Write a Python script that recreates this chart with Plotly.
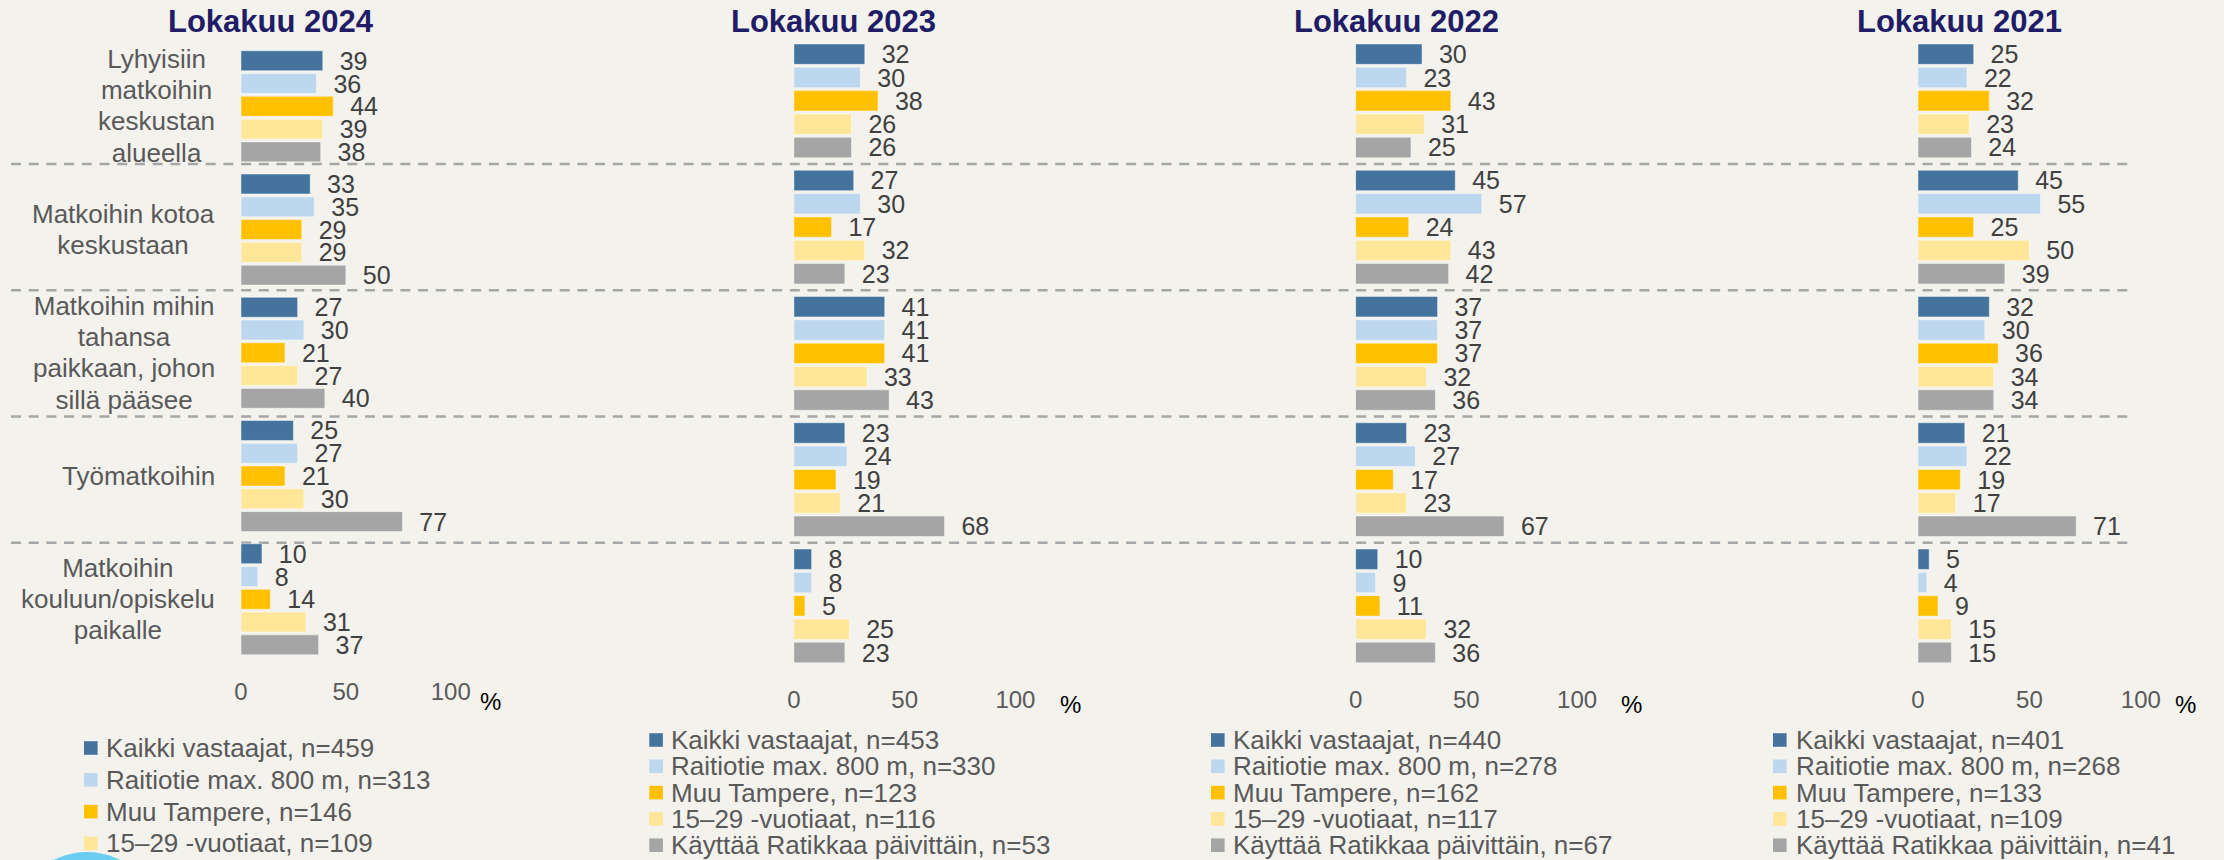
import plotly.graph_objects as go

W, H = 2224, 860

# ---------------- data ----------------
panel_titles = ["Lokakuu 2024", "Lokakuu 2023", "Lokakuu 2022", "Lokakuu 2021"]
categories = [
    "Lyhyisiin<br>matkoihin<br>keskustan<br>alueella",
    "Matkoihin kotoa<br>keskustaan",
    "Matkoihin mihin<br>tahansa<br>paikkaan, johon<br>sillä pääsee",
    "Työmatkoihin",
    "Matkoihin<br>kouluun/opiskelu<br>paikalle",
]
series = ["Kaikki vastaajat", "Raitiotie max. 800 m", "Muu Tampere",
          "15–29 -vuotiaat", "Käyttää Ratikkaa päivittäin"]
colors = ["#44739E", "#BDD7EE", "#FFC000", "#FFE699", "#A5A5A5"]
tick_vals = [0, 50, 100]

v2024_kaikki = [39, 33, 27, 25, 10]
v2024_raitiotie = [36, 35, 30, 27, 8]
v2024_muu = [44, 29, 21, 21, 14]
v2024_nuoret = [39, 29, 27, 30, 31]
v2024_paivittain = [38, 50, 40, 77, 37]

v2023_kaikki = [32, 27, 41, 23, 8]
v2023_raitiotie = [30, 30, 41, 24, 8]
v2023_muu = [38, 17, 41, 19, 5]
v2023_nuoret = [26, 32, 33, 21, 25]
v2023_paivittain = [26, 23, 43, 68, 23]

v2022_kaikki = [30, 45, 37, 23, 10]
v2022_raitiotie = [23, 57, 37, 27, 9]
v2022_muu = [43, 24, 37, 17, 11]
v2022_nuoret = [31, 43, 32, 23, 32]
v2022_paivittain = [25, 42, 36, 67, 36]

v2021_kaikki = [25, 45, 32, 21, 5]
v2021_raitiotie = [22, 55, 30, 22, 4]
v2021_muu = [32, 25, 36, 19, 9]
v2021_nuoret = [23, 50, 34, 17, 15]
v2021_paivittain = [24, 39, 34, 71, 15]

n2024 = [459, 313, 146, 109]          # 5th legend entry is cut off in the source
n2023 = [453, 330, 123, 116, 53]
n2022 = [440, 278, 162, 117, 67]
n2021 = [401, 268, 133, 109, 41]

panel_values = [
    [v2024_kaikki, v2024_raitiotie, v2024_muu, v2024_nuoret, v2024_paivittain],
    [v2023_kaikki, v2023_raitiotie, v2023_muu, v2023_nuoret, v2023_paivittain],
    [v2022_kaikki, v2022_raitiotie, v2022_muu, v2022_nuoret, v2022_paivittain],
    [v2021_kaikki, v2021_raitiotie, v2021_muu, v2021_nuoret, v2021_paivittain],
]
panel_n = [n2024, n2023, n2022, n2021]

# ---------------- layout geometry (pixels) ----------------
FONT = "Arial, Liberation Sans, sans-serif"
BG = "#F3F2ED"
panels = [
    dict(x0=241.0, x100=450.7, ytop=44.7, ybot=660.9, title_cx=270.5, pct=(490, 701),
         sq_x=84.0, txt_x=103.6, leg_y0=748.0, leg_dy=31.8),
    dict(x0=793.9, x100=1015.4, ytop=37.7, ybot=669.0, title_cx=833.8, pct=(1070, 704),
         sq_x=649.3, txt_x=668.9, leg_y0=740.0, leg_dy=26.3),
    dict(x0=1355.6, x100=1577.1, ytop=37.7, ybot=669.0, title_cx=1396.6, pct=(1631, 704),
         sq_x=1211.0, txt_x=1230.7, leg_y0=740.0, leg_dy=26.3),
    dict(x0=1918.0, x100=2140.8, ytop=37.7, ybot=669.0, title_cx=1959.3, pct=(2185, 704),
         sq_x=1773.0, txt_x=1793.5, leg_y0=740.0, leg_dy=26.3),
]

def px(x):
    return x / W

def py(y):
    return 1 - y / H

fig = go.Figure()
annotations = []
shapes = []

for p, (geo, vals) in enumerate(zip(panels, panel_values)):
    sfx = "" if p == 0 else str(p + 1)
    xa, ya = "x" + sfx, "y" + sfx
    for k in range(len(series)):
        fig.add_trace(go.Bar(
            x=vals[k], y=categories, orientation="h",
            xaxis=xa, yaxis=ya, name=series[k], showlegend=False,
            marker=dict(color=colors[k], line=dict(color="rgba(255,255,255,0.45)", width=1)),
            texttemplate="\u00a0\u00a0%{x}", textposition="outside",
            textfont=dict(family=FONT, size=25, color="#404040"),
            constraintext="none", cliponaxis=False, hoverinfo="x+name",
        ))
    fig.layout["xaxis" + sfx] = dict(
        domain=[px(geo["x0"]), px(geo["x100"])], range=[0, 100], anchor=ya,
        tickvals=tick_vals, showgrid=False, zeroline=False, showline=False, ticks="",
        tickfont=dict(family=FONT, size=24, color="#595959"), ticklabelstandoff=14,
        automargin=False, fixedrange=True,
    )
    fig.layout["yaxis" + sfx] = dict(
        domain=[py(geo["ybot"]), py(geo["ytop"])], type="category",
        range=[len(categories) - 0.5, -0.5], anchor=xa,
        showticklabels=False, showgrid=False, zeroline=False, showline=False, ticks="",
        automargin=False, fixedrange=True,
    )
    # panel title
    annotations.append(dict(
        text="<b>" + panel_titles[p] + "</b>", xref="paper", yref="paper",
        x=px(geo["title_cx"]), y=py(22), xanchor="center", yanchor="middle", showarrow=False,
        font=dict(family=FONT, size=31, color="#201C66"),
    ))
    # percent sign
    annotations.append(dict(
        text="%", xref="paper", yref="paper", x=px(geo["pct"][0]), y=py(geo["pct"][1]),
        xanchor="center", yanchor="middle", showarrow=False,
        font=dict(family=FONT, size=24, color="#000000"),
    ))
    # legend (manual, to keep the compact line spacing)
    for k, n in enumerate(panel_n[p]):
        yc = geo["leg_y0"] + k * geo["leg_dy"]
        shapes.append(dict(
            type="rect", xref="paper", yref="paper",
            x0=px(geo["sq_x"]), x1=px(geo["sq_x"] + 13.6),
            y0=py(yc + 6.8), y1=py(yc - 6.8),
            fillcolor=colors[k], line=dict(width=0),
        ))
        annotations.append(dict(
            text=f"{series[k]}, n={n}", xref="paper", yref="paper",
            x=px(geo["txt_x"]), y=py(yc), xanchor="left", yanchor="middle", showarrow=False,
            font=dict(family=FONT, size=26, color="#595959"),
        ))

# category labels (left of first panel): 24px base gives the tight line pitch,
# the spans render the glyphs a little larger
for i, cat in enumerate(categories):
    txt = "<br>".join("<span style='font-size:26px'>" + ln + "</span>" for ln in cat.split("<br>"))
    annotations.append(dict(
        text=txt, xref="paper", yref="y", x=px(217), y=i,
        xanchor="right", yanchor="middle", align="center", showarrow=False,
        font=dict(family=FONT, size=24, color="#595959"),
    ))

# dashed separators between category groups
for i in range(len(categories) - 1):
    shapes.append(dict(
        type="line", xref="paper", yref="y2", x0=px(11), x1=px(2132), y0=i + 0.5, y1=i + 0.5,
        line=dict(color="#A6A6A6", width=2.6, dash="10px,7.7px"), layer="below",
    ))

# partially visible decorative circle at the bottom-left corner
shapes.append(dict(
    type="circle", xref="paper", yref="paper",
    x0=px(13), x1=px(161), y0=py(1000), y1=py(852),
    fillcolor="#6CCDF3", line=dict(width=0),
))

fig.update_layout(
    width=W, height=H, margin=dict(l=0, r=0, t=0, b=0, pad=0, autoexpand=False),
    paper_bgcolor=BG, plot_bgcolor=BG,
    barmode="group", bargap=0.076, bargroupgap=0.125,
    showlegend=False, annotations=annotations, shapes=shapes,
    font=dict(family=FONT, color="#595959"),
)

post = (
    "document.documentElement.style.margin='0';"
    "document.documentElement.style.padding='0';"
    "document.documentElement.style.overflow='hidden';"
    "document.body.style.margin='0';"
    "document.body.style.padding='0';"
    "document.body.style.overflow='hidden';"
    "document.body.style.background='" + BG + "';"
    "var gd=document.getElementById('{plot_id}');"
    "if(window.innerWidth && Math.abs(window.innerWidth-" + str(W) + ")>2){"
    "Plotly.relayout(gd,{width:window.innerWidth});}"
)

fig.write_html("out.html", config={"displayModeBar": False, "responsive": False},
               post_script=post)
